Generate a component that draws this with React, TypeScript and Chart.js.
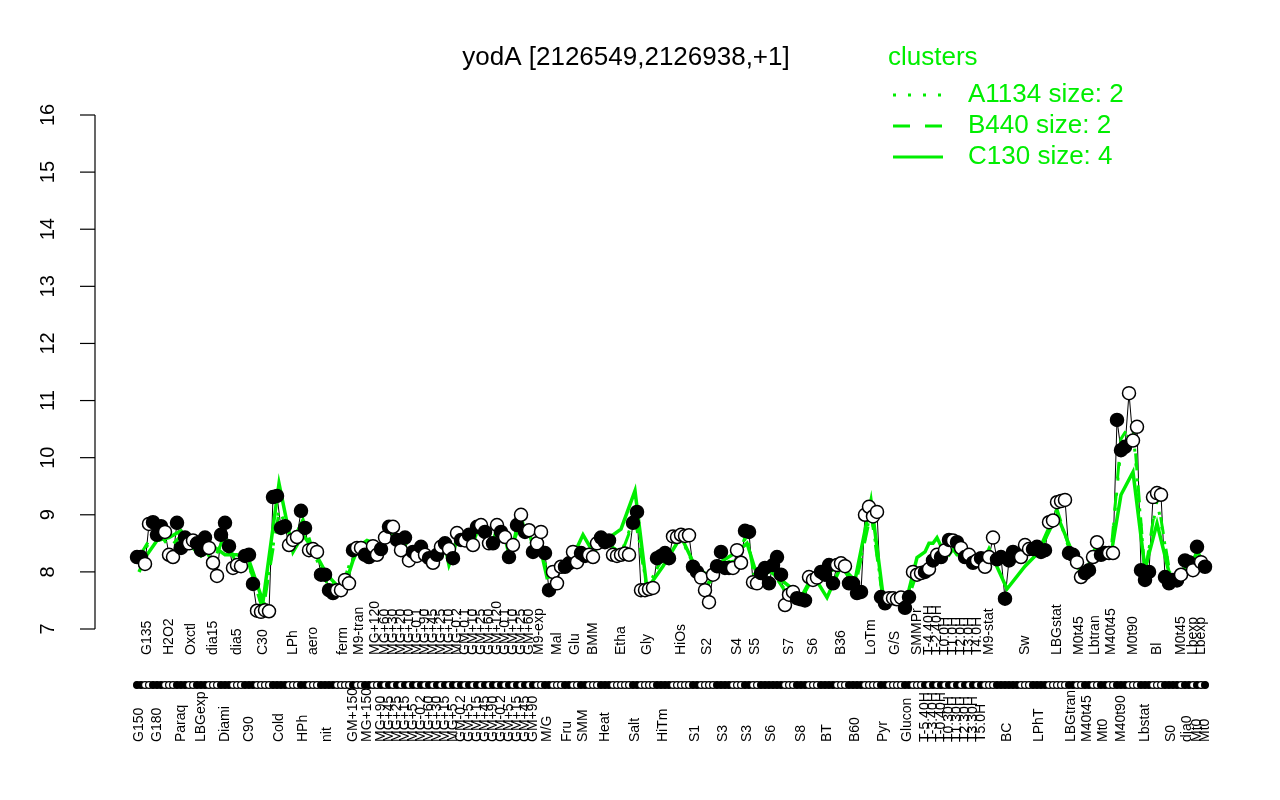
import React, { useEffect, useRef } from "react";
import { Chart, registerables } from "chart.js";

Chart.register(...registerables);

const titleText = "yodA [2126549,2126938,+1]";
const legendTitle = "clusters";
const clusterNames = ["A1134 size: 2", "B440 size: 2", "C130 size: 4"];
const yTicks = [7, 8, 9, 10, 11, 12, 13, 14, 15, 16];

const groupLabels: string[] = [
  "G150", "G135", "G180", "H2O2", "Paraq", "Oxctl", "LBGexp", "dia15", "Diami", "dia5",
  "C90", "C30", "Cold", "LPh", "HPh", "aero", "nit", "ferm", "GM+150", "M9-tran",
  "MG+150", "MG+120",
  "MG+90", "MG+60", "MG+45", "MG+30", "MG+25", "MG+20", "MG+15", "MG+10", "MG+5", "MG-0.1",
  "MG-0.2", "MG+90", "MG+60", "MG+45", "MG+30", "MG+25", "MG+15", "MG+10", "MG+5", "MG-0.2",
  "GM-0.2", "GM-0.1", "GM+5", "GM+10", "GM+15", "GM+25", "GM+45", "GM+60", "GM+90", "GM+120",
  "GM-0.2", "GM-0.1", "GM+5", "GM+10", "GM+15", "GM+25", "GM+45", "GM+60", "GM+90",
  "M9-exp", "M/G", "Mal", "Fru", "Glu", "SMM", "BMM", "Heat", "Etha", "Salt",
  "Gly", "HiTm", "HiOs", "S1", "S2", "S3", "S4", "S3", "S5", "S6",
  "S7", "S8", "S6", "BT", "B36", "B60", "LoTm", "Pyr", "G/S", "Glucon", "SMMPr",
  "T-5.40H", "T-4.40H", "T-3.40H", "T-2.40H", "T-0.40H", "T0.0H", "T0.30H", "T1.0H", "T1.30H", "T2.0H",
  "T2.30H", "T3.0H", "T3.30H", "T4.0H", "T5.0H",
  "M9-stat", "BC", "Sw", "LPhT", "LBGstat", "LBGtran", "M0t45", "M40t45", "Lbtran", "Mt0",
  "M40t45", "M40t90", "M0t90", "Lbstat", "Bl", "S0", "M0t45", "dia0", "Lbexp", "Mt0",
  "Lbexp", "Mt0",
];

const groupValues: number[][] = [
  [8.26, 8.26], [8.14, 8.84], [8.87, 8.65, 8.8], [8.7, 8.3, 8.26], [8.86, 8.42, 8.6],
  [8.5, 8.55], [8.5, 8.38, 8.6], [8.42, 8.16, 7.93], [8.65, 8.86, 8.45], [8.07, 8.12, 8.1],
  [8.28, 8.3, 7.79], [7.32, 7.3, 7.33, 7.31], [9.31, 9.33, 8.77, 8.8], [8.47, 8.56, 8.61], [9.07, 8.77],
  [8.38, 8.4, 8.35], [7.95, 7.95, 7.68, 7.63], [7.68, 7.68, 7.86, 7.8], [8.38], [8.42, 8.42],
  [8.3, 8.26], [8.45, 8.3],
  [8.4], [8.6], [8.79], [8.79], [8.56], [8.38], [8.6], [8.2], [8.35], [8.28],
  [8.44], [8.3], [8.24], [8.16], [8.3], [8.44], [8.5], [8.4], [8.24], [8.68],
  [8.56], [8.55], [8.65], [8.47], [8.79], [8.82], [8.7], [8.5], [8.5], [8.82],
  [8.7], [8.61], [8.26], [8.47], [8.82], [9.0], [8.7], [8.73], [8.35],
  [8.5, 8.7], [8.33, 7.68], [8.0, 7.8, 8.09], [8.09, 8.15], [8.35, 8.17], [8.33, 8.28],
  [8.3, 8.26, 8.5], [8.6, 8.52, 8.55], [8.3, 8.28, 8.3, 8.32, 8.3], [8.86, 9.05],
  [7.68, 7.68, 7.7, 7.72], [8.24, 8.28, 8.33, 8.24], [8.62, 8.61, 8.65, 8.63, 8.64], [8.09, 8.0],
  [7.9, 7.68, 7.47, 7.95], [8.1, 8.35, 8.07, 8.07], [8.07, 8.38, 8.16], [8.72, 8.7], [7.82, 7.8],
  [7.98, 8.07, 7.8, 8.12, 8.26, 7.95], [7.42, 7.6, 7.65], [7.54, 7.52, 7.5], [7.91, 7.86, 7.9],
  [8.0, 7.95, 8.12, 7.8], [8.12, 8.15, 8.1], [7.8, 7.8, 7.63, 7.65], [9.0, 9.14, 8.97, 9.05],
  [7.56, 7.45], [7.54, 7.54, 7.52, 7.55], [7.37, 7.56], [8.0, 7.95, 7.98],
  [8.0], [8.05], [8.2], [8.3], [8.26], [8.38], [8.56], [8.55], [8.52], [8.42],
  [8.26], [8.3], [8.16], [8.2], [8.24],
  [8.09, 8.26, 8.6], [8.22, 8.26, 7.53, 8.2, 8.35, 8.3], [8.26, 8.47, 8.4], [8.4, 8.44, 8.35, 8.38],
  [8.87, 8.9, 9.22, 9.24, 9.26], [8.33, 8.3], [8.17, 7.91], [7.98, 8.03], [8.26, 8.52], [8.3, 8.33],
  [8.33, 8.33], [10.66, 10.13, 10.19], [11.13, 10.3, 10.54], [8.03, 7.86, 8.0], [9.31, 9.38, 9.35],
  [7.91, 7.8, 7.86, 7.85], [7.95], [8.2, 8.17], [8.03], [8.44], [8.17], [8.09],
];

// cluster profiles, one value per condition group
const clusterC130: number[] = [
  8.0, 8.3, 8.55, 8.6, 8.72, 8.45, 8.28, 8.45, 8.3, 8.3, 8.2, 7.48, 9.55, 8.35, 8.65, 8.4, 7.95, 7.65, 8.2, 8.45,
  8.55, 8.5,
  8.45, 8.55, 8.65, 8.7, 8.5, 8.4, 8.45, 8.3, 8.35, 8.25, 8.4, 8.3, 8.22, 8.18, 8.28, 8.4, 8.45, 8.12, 8.3, 8.6,
  8.55, 8.6, 8.62, 8.5, 8.7, 8.75, 8.65, 8.55, 8.5, 8.75, 8.7, 8.6, 8.35, 8.5, 8.7, 8.85, 8.65, 8.7, 8.45,
  8.52, 7.9, 7.95, 8.2, 8.35, 8.65, 8.35, 8.55, 8.75, 9.42, 7.7, 8.1, 8.62, 8.1, 7.95, 8.2, 8.35, 8.5, 8.05, 8.0,
  7.75, 7.55, 7.95, 7.55, 8.1, 7.85, 9.25, 7.6, 7.55, 7.55, 8.25,
  8.35, 8.5, 8.5, 8.6, 8.45, 8.35, 8.3, 8.4, 8.3, 8.3, 8.25, 8.2, 8.25, 8.2, 8.1,
  8.4, 7.7, 8.1, 8.35, 9.0, 8.4, 8.1, 8.05, 8.4, 8.3, 8.3, 9.35, 9.75, 8.05, 8.85, 7.85, 7.95, 8.15, 8.2, 8.35,
  8.25, 8.15,
];

const clusterB440: number[] = [
  8.26, 8.49, 8.77, 8.42, 8.63, 8.52, 8.49, 8.17, 8.65, 8.1, 8.12, 7.32, 9.05, 8.55, 8.92, 8.38, 7.8, 7.76, 8.38, 8.42,
  8.28, 8.38,
  8.4, 8.6, 8.79, 8.79, 8.56, 8.38, 8.6, 8.2, 8.35, 8.28, 8.44, 8.3, 8.24, 8.16, 8.3, 8.44, 8.5, 8.4, 8.24, 8.68,
  8.56, 8.55, 8.65, 8.47, 8.79, 8.82, 8.7, 8.5, 8.5, 8.82, 8.7, 8.61, 8.26, 8.47, 8.82, 9.0, 8.7, 8.73, 8.35,
  8.6, 8.0, 7.96, 8.12, 8.26, 8.3, 8.35, 8.56, 8.3, 8.95, 7.7, 8.27, 8.63, 8.05, 7.75, 8.15, 8.2, 8.71, 7.81, 8.03,
  7.56, 7.52, 7.89, 7.97, 8.12, 7.72, 9.04, 7.5, 7.54, 7.47, 7.98,
  8.0, 8.05, 8.2, 8.3, 8.26, 8.38, 8.56, 8.55, 8.52, 8.42, 8.26, 8.3, 8.16, 8.2, 8.24,
  8.32, 8.14, 8.38, 8.39, 9.1, 8.32, 8.04, 8.0, 8.39, 8.32, 8.33, 10.33, 10.66, 7.96, 9.35, 7.86, 7.95, 8.19, 8.03, 8.44,
  8.17, 8.09,
];

const clusterA1134: number[] = [
  8.2, 8.45, 8.7, 8.45, 8.6, 8.5, 8.45, 8.2, 8.6, 8.12, 8.1, 7.35, 9.1, 8.5, 8.85, 8.35, 7.82, 7.75, 8.35, 8.4,
  8.3, 8.35,
  8.42, 8.58, 8.75, 8.75, 8.55, 8.4, 8.55, 8.25, 8.35, 8.3, 8.4, 8.3, 8.25, 8.2, 8.3, 8.4, 8.48, 8.38, 8.28, 8.62,
  8.55, 8.55, 8.6, 8.5, 8.75, 8.78, 8.68, 8.52, 8.5, 8.78, 8.68, 8.6, 8.3, 8.48, 8.78, 8.95, 8.7, 8.7, 8.38,
  8.58, 8.02, 7.98, 8.12, 8.25, 8.32, 8.35, 8.55, 8.32, 9.0, 7.72, 8.25, 8.6, 8.05, 7.78, 8.15, 8.22, 8.65, 7.85, 8.02,
  7.6, 7.55, 7.9, 7.9, 8.1, 7.75, 9.08, 7.52, 7.55, 7.5, 8.0,
  8.05, 8.1, 8.22, 8.32, 8.28, 8.38, 8.5, 8.5, 8.48, 8.4, 8.28, 8.28, 8.2, 8.22, 8.22,
  8.3, 8.12, 8.35, 8.38, 9.05, 8.3, 8.05, 8.02, 8.38, 8.3, 8.32, 10.2, 10.5, 7.98, 9.25, 7.88, 7.95, 8.18, 8.05, 8.4,
  8.15, 8.1,
];

const GREEN = "#00ee00";
const FONT = "'Liberation Sans', Arial, Helvetica, sans-serif";

export default function App() {
  const canvasRef = useRef<HTMLCanvasElement | null>(null);

  useEffect(() => {
    const canvas = canvasRef.current;
    if (!canvas) return;

    const starts: number[] = [];
    let k = 0;
    groupValues.forEach((vals) => {
      starts.push(k);
      k += vals.length;
    });
    const pts: { x: number; y: number }[] = [];
    const fills: string[] = [];
    groupValues.forEach((vals, g) => {
      vals.forEach((v, j) => {
        pts.push({ x: starts[g] + j, y: v });
        fills.push(g % 2 === 0 ? "#000000" : "#ffffff");
      });
    });
    const centers = groupValues.map((vals, g) => starts[g] + (vals.length - 1) / 2);
    const clusterData = (arr: number[]) => centers.map((c, g) => ({ x: c, y: arr[g] }));

    const decor = {
      id: "decor",
      afterDraw(chart: any) {
        const ctx = chart.ctx as CanvasRenderingContext2D;
        const xs = chart.scales.x;
        const ys = chart.scales.y;
        ctx.save();
        // title
        ctx.fillStyle = "#000";
        ctx.font = `26px ${FONT}`;
        ctx.textAlign = "center";
        ctx.textBaseline = "middle";
        ctx.fillText(titleText, 626, 58);

        // y axis
        const x0 = 95;
        ctx.strokeStyle = "#000";
        ctx.lineWidth = 1.2;
        ctx.beginPath();
        ctx.moveTo(x0, ys.getPixelForValue(yTicks[0]));
        ctx.lineTo(x0, ys.getPixelForValue(yTicks[yTicks.length - 1]));
        ctx.stroke();
        ctx.font = `20px ${FONT}`;
        yTicks.forEach((t) => {
          const y = ys.getPixelForValue(t);
          ctx.beginPath();
          ctx.moveTo(x0 - 15, y);
          ctx.lineTo(x0, y);
          ctx.stroke();
          ctx.save();
          ctx.translate(48, y);
          ctx.rotate(-Math.PI / 2);
          ctx.textAlign = "center";
          ctx.textBaseline = "middle";
          ctx.fillText(String(t), 0, 0);
          ctx.restore();
        });

        // marker row
        pts.forEach((p, i) => {
          const x = xs.getPixelForValue(p.x);
          ctx.beginPath();
          ctx.arc(x, 685, 3.4, 0, Math.PI * 2);
          ctx.fillStyle = fills[i];
          ctx.fill();
          ctx.lineWidth = 1.2;
          ctx.strokeStyle = "#000";
          ctx.stroke();
        });

        // condition labels
        ctx.fillStyle = "#000";
        ctx.font = `14px ${FONT}`;
        groupLabels.forEach((lab, g) => {
          const x = xs.getPixelForValue(centers[g]);
          ctx.save();
          ctx.translate(x, g % 2 === 0 ? 742 : 655);
          ctx.rotate(-Math.PI / 2);
          ctx.textAlign = "left";
          ctx.textBaseline = "middle";
          ctx.fillText(lab, 0, 0);
          ctx.restore();
        });

        // legend
        ctx.fillStyle = GREEN;
        ctx.strokeStyle = GREEN;
        ctx.font = `26px ${FONT}`;
        ctx.textAlign = "left";
        ctx.textBaseline = "middle";
        ctx.fillText(legendTitle, 888, 58);
        const rows = [95, 126, 157];
        const dashes = [[3, 12], [17, 15], []];
        rows.forEach((y, i) => {
          ctx.save();
          ctx.lineWidth = 3;
          ctx.setLineDash(dashes[i]);
          ctx.beginPath();
          ctx.moveTo(893, y);
          ctx.lineTo(943, y);
          ctx.stroke();
          ctx.restore();
          ctx.fillText(clusterNames[i], 968, y);
        });
        ctx.restore();
      },
    };

    const chart = new Chart(canvas, {
      type: "line",
      data: {
        datasets: [
          {
            label: "samples-line",
            data: pts,
            borderColor: "#000",
            borderWidth: 1,
            pointRadius: 0,
            order: 5,
          },
          {
            label: "A1134",
            data: clusterData(clusterA1134),
            borderColor: GREEN,
            borderWidth: 3,
            borderDash: [3, 12],
            pointRadius: 0,
            order: 4,
          },
          {
            label: "B440",
            data: clusterData(clusterB440),
            borderColor: GREEN,
            borderWidth: 3,
            borderDash: [17, 15],
            pointRadius: 0,
            order: 3,
          },
          {
            label: "C130",
            data: clusterData(clusterC130),
            borderColor: GREEN,
            borderWidth: 3.5,
            pointRadius: 0,
            order: 2,
          },
          {
            label: "samples",
            data: pts,
            showLine: false,
            pointRadius: 6.5,
            pointBackgroundColor: fills,
            pointBorderColor: "#000",
            pointBorderWidth: 1.5,
            order: 1,
          },
        ],
      },
      options: {
        responsive: false,
        animation: false,
        devicePixelRatio: 1,
        layout: { padding: { left: 95, right: 35, top: 115, bottom: 171 } },
        elements: { line: { tension: 0 } },
        scales: {
          x: { type: "linear", min: -10.5, max: 277, display: false },
          y: { type: "linear", min: 7, max: 16, display: false },
        },
        plugins: {
          legend: { display: false },
          tooltip: { enabled: false },
          title: { display: false },
        },
      },
      plugins: [decor],
    });

    return () => chart.destroy();
  }, []);

  return (
    <div style={{ position: "absolute", left: 0, top: 0, width: 1280, height: 800, background: "#fff" }}>
      <canvas ref={canvasRef} width={1280} height={800} style={{ width: 1280, height: 800 }} />
    </div>
  );
}
